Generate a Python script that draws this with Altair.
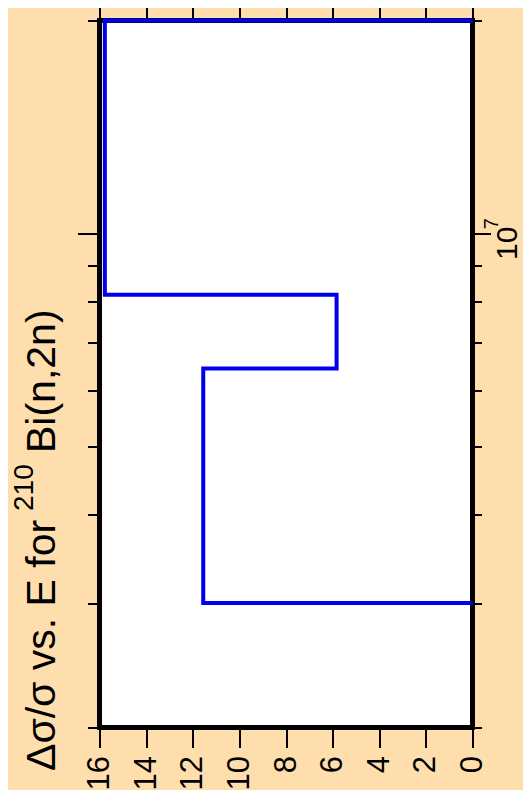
import altair as alt
import pandas as pd

# ---- data ----
energy_bounds = [3.0e6, 6.44e6, 8.19e6, 2.0e7]   # group boundaries (eV)
dsig_values = [11.55, 5.83, 15.77]                # Δσ/σ per group
value_ticks = [0, 2, 4, 6, 8, 10, 12, 14, 16]
minor_energy_ticks = [2e6, 3e6, 4e6, 5e6, 6e6, 7e6, 8e6, 9e6, 2e7]
major_energy_ticks = [1e7]
major_label = ["10", "7"]                         # 10^7
title_parts = ["Δσ/σ vs. E for ", "210", "Bi(n,2n)"]
E_DOMAIN = [2e6, 2e7]
V_DOMAIN = [0, 16]

# step outline built from the arrays
pts = [(energy_bounds[0], 0.0)]
for i, v in enumerate(dsig_values):
    pts.append((energy_bounds[i], v))
    pts.append((energy_bounds[i + 1], v))
pts.append((energy_bounds[-1], 0.0))
df = pd.DataFrame(pts, columns=["E", "v"])
df["order"] = range(len(df))

W, H = 373, 707
FONT = "Liberation Sans"
LBL = 31

def xs():
    return alt.Scale(domain=V_DOMAIN, reverse=True, nice=False, zero=False)

def ys():
    return alt.Scale(type="log", domain=E_DOMAIN, nice=False)

base = alt.Chart(df)

line = base.mark_line(color="#0000ee", strokeWidth=4, clip=False).encode(
    x=alt.X("v:Q", scale=xs(), axis=alt.Axis(orient="bottom", values=value_ticks, tickSize=20,
                                          labelAngle=270, labelAlign="right", labelBaseline="middle",
                                          labelPadding=8, labelFontSize=LBL, title=None)),
    y=alt.Y("E:Q", scale=ys(), axis=alt.Axis(orient="right", values=minor_energy_ticks, tickSize=9,
                                          labels=False, title=None)),
    order="order:Q",
)

ax2 = base.mark_line(opacity=0).encode(
    x=alt.X("v:Q", scale=xs(), axis=alt.Axis(orient="top", values=value_ticks, tickSize=20,
                                          labels=False, title=None)),
    y=alt.Y("E:Q", scale=ys(), axis=alt.Axis(orient="right", values=major_energy_ticks, tickSize=18,
                                          labels=False, title=None)),
    order="order:Q",
)

ax3 = base.mark_line(opacity=0).encode(
    x=alt.X("v:Q", scale=xs(), axis=None),
    y=alt.Y("E:Q", scale=ys(), axis=alt.Axis(orient="left", values=minor_energy_ticks, tickSize=12,
                                          labels=False, title=None)),
    order="order:Q",
)

ax4 = base.mark_line(opacity=0).encode(
    x=alt.X("v:Q", scale=xs(), axis=None),
    y=alt.Y("E:Q", scale=ys(), axis=alt.Axis(orient="left", values=major_energy_ticks, tickSize=22,
                                          labels=False, title=None)),
    order="order:Q",
)

lab10 = alt.Chart(pd.DataFrame({"t": [major_label[0]]})).mark_text(
    font=FONT, fontSize=30, angle=270, align="center", baseline="bottom", dx=-10, color="black"
).encode(
    y=alt.Y(datum=major_energy_ticks[0], scale=ys(), axis=None),
    x=alt.value(W + 50),
    text="t:N",
)

sup7 = alt.Chart(pd.DataFrame({"t": [major_label[1]]})).mark_text(
    font=FONT, fontSize=20, angle=270, align="left", baseline="alphabetic", dx=4, color="black"
).encode(
    y=alt.Y(datum=major_energy_ticks[0], scale=ys(), axis=None),
    x=alt.value(W + 25.5),
    text="t:N",
)

tdf = pd.DataFrame({"t": title_parts})
t1 = alt.Chart(tdf.iloc[[0]]).mark_text(font=FONT, fontSize=41, angle=270, align="left",
                                        baseline="alphabetic", color="black").encode(
    x=alt.value(-44.5), y=alt.value(750.5), text="t:N")
t2 = alt.Chart(tdf.iloc[[1]]).mark_text(font=FONT, fontSize=28, angle=270, align="left",
                                        baseline="alphabetic", color="black").encode(
    x=alt.value(-66.5), y=alt.value(490.5), text="t:N")
t3 = alt.Chart(tdf.iloc[[2]]).mark_text(font=FONT, fontSize=41, angle=270, align="left",
                                        baseline="alphabetic", color="black").encode(
    x=alt.value(-44.5), y=alt.value(432.5), text="t:N")

chart = alt.layer(line, ax2, ax3, ax4, lab10, sup7, t1, t2, t3).resolve_scale(
    x="independent", y="independent"
).resolve_axis(
    x="independent", y="independent"
).properties(
    width=W, height=H,
    background="#FFDEAD",
    autosize=alt.AutoSizeParams(type="none"),
    padding={"left": 91.5, "top": 12.5, "right": 50.5, "bottom": 62},
).configure_view(
    stroke="black", strokeWidth=5, fill="white"
).configure_axis(
    domain=False, grid=False, tickColor="black", tickWidth=2, labelColor="black",
    labelFont=FONT, labelFlush=False, labelOverlap=False,
)

chart.save("out.html", embed_options={"renderer": "svg", "actions": False})
